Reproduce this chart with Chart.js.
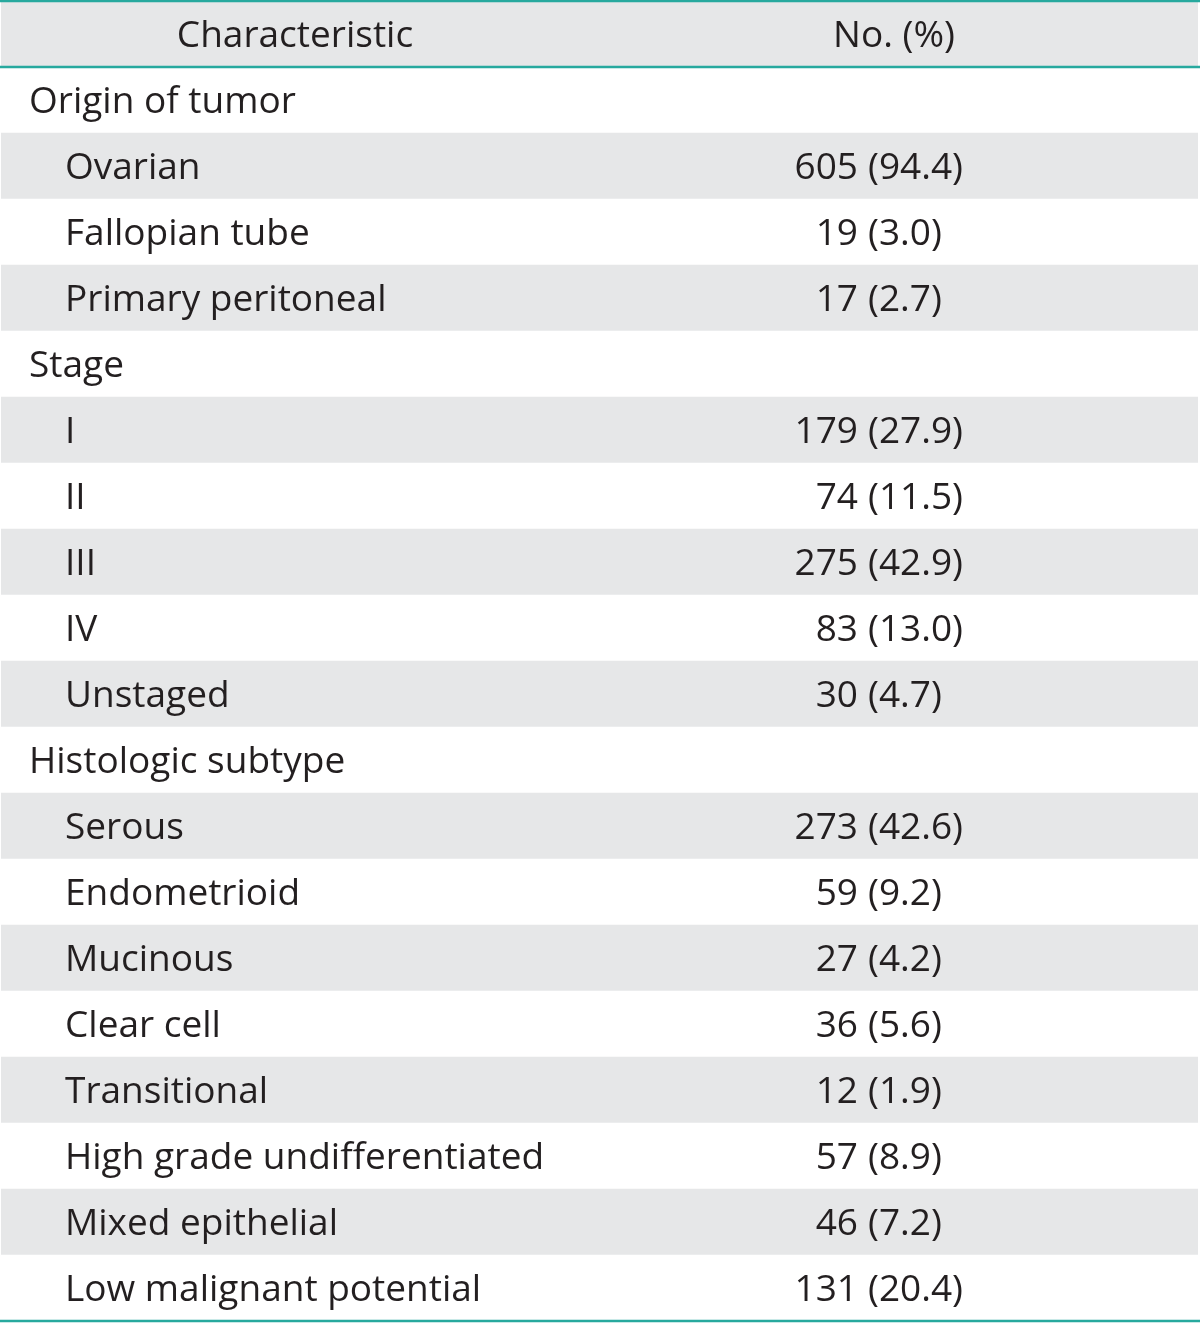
<!DOCTYPE html>
<html>
<head>
<meta charset="utf-8">
<script src="https://cdn.jsdelivr.net/npm/chart.js@4"></script>
<style>
  body { margin: 0; background: #ffffff; }
  #wrap { width: 1200px; height: 1323px; position: relative; }
</style>
</head>
<body>
<div id="wrap"><canvas id="tabela"></canvas></div>
<script>
const headers = ["Characteristic", "No. (%)"];
const characteristics = [
  "Origin of tumor",
  "Ovarian",
  "Fallopian tube",
  "Primary peritoneal",
  "Stage",
  "I",
  "II",
  "III",
  "IV",
  "Unstaged",
  "Histologic subtype",
  "Serous",
  "Endometrioid",
  "Mucinous",
  "Clear cell",
  "Transitional",
  "High grade undifferentiated",
  "Mixed epithelial",
  "Low malignant potential"
];
const counts = [null, 605, 19, 17, null, 179, 74, 275, 83, 30, null, 273, 59, 27, 36, 12, 57, 46, 131];
const percents = [null, 94.4, 3.0, 2.7, null, 27.9, 11.5, 42.9, 13.0, 4.7, null, 42.6, 9.2, 4.2, 5.6, 1.9, 8.9, 7.2, 20.4];

const rowLabels = [headers[0], ...characteristics];
const fonte = "37px 'Open Sans', 'Noto Sans', sans-serif";
const corTexto = "#231f20";
const cinza = "#e6e7e8";
const verdeAzul = "#27a99e";

// texto da tabela + linhas
const textoTabela = {
  id: "textoTabela",
  afterDatasetsDraw(chart) {
    const ctx = chart.ctx;
    const y = chart.scales.y;
    const area = chart.chartArea;
    const meia = (y.getPixelForValue(1) - y.getPixelForValue(0)) / 2;
    ctx.save();
    ctx.font = fonte;
    ctx.fillStyle = corTexto;
    ctx.textBaseline = "alphabetic";

    const yh = y.getPixelForValue(0) + 13;
    ctx.textAlign = "center";
    ctx.fillText(headers[0], 295, yh);
    ctx.fillText(headers[1], 894, yh);

    characteristics.forEach((nome, i) => {
      const yy = y.getPixelForValue(i + 1) + 13;
      const grupo = counts[i] === null;
      ctx.textAlign = "left";
      ctx.fillText(nome, grupo ? 29 : 65, yy);
      if (!grupo) {
        ctx.textAlign = "right";
        ctx.fillText(String(counts[i]), 858, yy);
        ctx.textAlign = "left";
        ctx.fillText("(" + percents[i].toFixed(1) + ")", 868, yy);
      }
    });

    ctx.strokeStyle = verdeAzul;
    ctx.lineWidth = 2.5;
    const linhas = [area.top, y.getPixelForValue(0) + meia, area.bottom];
    linhas.forEach((ly) => {
      ctx.beginPath();
      ctx.moveTo(0, ly);
      ctx.lineTo(1200, ly);
      ctx.stroke();
    });
    ctx.restore();
  }
};

new Chart(document.getElementById("tabela"), {
  type: "bar",
  data: {
    labels: rowLabels,
    datasets: [
      {
        label: "linhas",
        data: rowLabels.map(() => [0, 1]),
        backgroundColor: rowLabels.map((_, i) => (i % 2 === 0 ? cinza : "#ffffff")),
        borderWidth: 0,
        barPercentage: 1,
        categoryPercentage: 1,
      },
    ],
  },
  options: {
    indexAxis: "y",
    responsive: true,
    maintainAspectRatio: false,
    animation: false,
    layout: { padding: { top: 1, bottom: 2, left: 1, right: 2 } },
    scales: {
      x: { display: false, min: 0, max: 1 },
      y: { display: false },
    },
    plugins: {
      legend: { display: false },
      tooltip: { enabled: false },
    },
  },
  plugins: [textoTabela],
});
</script>
</body>
</html>
